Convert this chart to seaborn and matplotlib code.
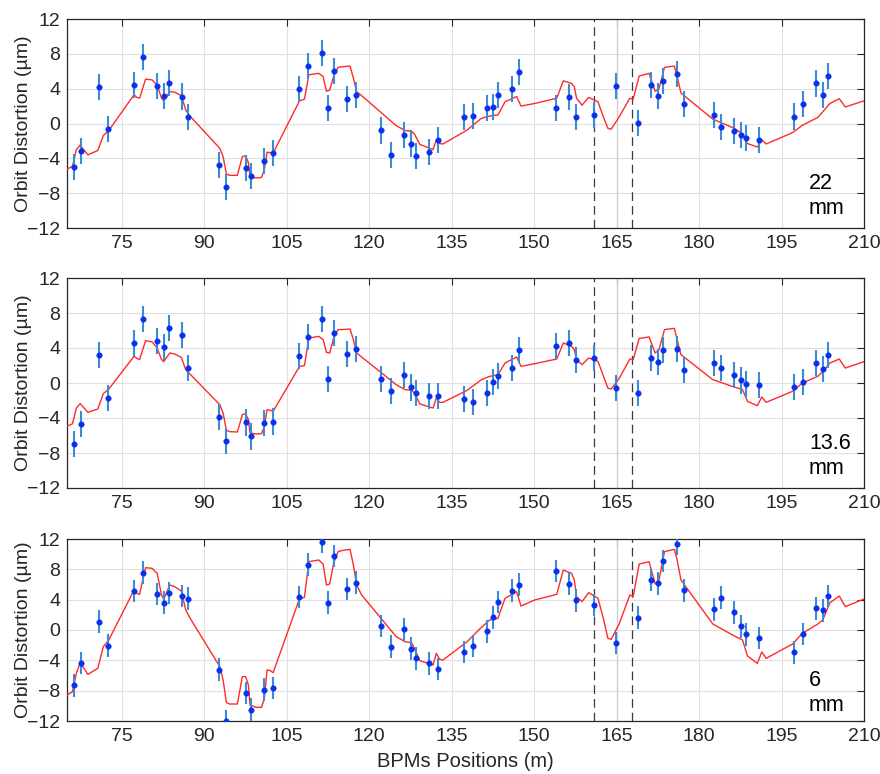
import numpy as np
import pandas as pd
import matplotlib
matplotlib.use("Agg")
import matplotlib.pyplot as plt
import seaborn as sns

# ---------------- data ----------------
BPM_S = [66.3, 67.6, 70.9, 72.5, 77.2, 78.9, 81.4, 82.6, 83.5, 85.9, 87.1,
         92.6, 93.9, 97.6, 98.5, 100.9, 102.5,
         107.2, 108.9, 111.4, 112.5, 113.5,
         115.9, 117.6,
         122.2, 123.9, 126.4, 127.6, 128.5, 130.9, 132.5,
         137.2, 138.9, 141.4, 142.5, 143.5, 145.9, 147.2,
         153.9, 156.4, 157.6, 160.9,
         164.9,
         168.9, 171.3, 172.5, 173.5, 175.9, 177.2,
         182.7, 183.9, 186.4, 187.6, 188.5, 190.9,
         197.3, 198.9, 201.3, 202.6, 203.5]

MEAS_22 = [-5.0, -3.2, 4.2, -0.6, 4.4, 7.6, 4.3, 3.2, 4.65, 3.1, 0.7,
           -4.8, -7.3, -5.1, -6.0, -4.3, -3.35,
           4.0, 6.6, 8.06, 1.8, 6.0,
           2.8, 3.3,
           -0.8, -3.6, -1.3, -2.3, -3.7, -3.3, -1.9,
           0.7, 0.9, 1.8, 1.9, 3.3, 4.0, 5.9,
           1.8, 3.0, 0.7, 1.0,
           4.35,
           0.06, 4.4, 3.2, 4.85, 5.7, 2.2,
           1.0, -0.4, -0.9, -1.3, -1.7, -1.9,
           0.8, 2.2, 4.6, 3.3, 5.5]

MEAS_136 = [-6.97, -4.7, 3.16, -1.7, 4.6, 7.3, 4.76, 4.1, 6.25, 5.5, 1.7,
            -3.9, -6.6, -4.5, -6.1, -4.6, -4.4,
            3.1, 5.26, 7.3, 0.5, 5.7,
            3.3, 3.85,
            0.46, -0.95, 0.9, -0.5, -1.1, -1.45, -1.45,
            -1.87, -2.13, -1.1, 0.08, 0.84, 1.75, 3.77,
            4.27, 4.57, 2.59, 2.9,
            -0.6,
            -1.14, 2.82, 2.36, 3.73, 3.89, 1.45,
            2.32, 1.68, 0.91, 0.3, -0.11, -0.23,
            -0.46, 0.08, 2.25, 1.6, 3.2]

MEAS_6 = [-7.3, -4.35, 1.1, -2.07, 5.14, 7.56, 4.75, 3.6, 4.88, 4.48, 4.13,
          -5.23, -12.0, -8.3, -10.5, -7.87, -7.65,
          4.35, 8.62, 11.6, 3.6, 9.76,
          5.41, 6.24,
          0.53, -2.2, 0.09, -2.46, -3.74, -4.4, -5.14,
          -2.9, -2.11, -0.18, 1.67, 3.69, 5.19, 5.98,
          7.78, 6.11, 3.91, 3.3,
          -1.71,
          1.63, 6.59, 6.15, 9.1, 11.34, 5.23,
          2.73, 4.26, 2.33, 0.48, -0.57, -1.05,
          -2.95, -0.53, 2.86, 2.59, 4.48]

MEAS_ERR = [1.5] * len(BPM_S)

MODEL_S = [65.0, 66.0, 66.7, 67.4, 68.8, 70.6, 71.6, 72.6, 77.2, 77.7, 78.2,
           79.3, 80.5, 81.4, 82.2, 82.6, 83.7, 84.6, 85.8, 86.6, 87.3,
           92.8, 93.4, 94.0, 94.6, 96.0, 96.9, 97.5, 98.0, 98.3, 99.4,
           100.4, 100.9, 101.4, 102.0, 102.5, 107.3, 108.2, 109.0, 110.8,
           111.6, 112.2, 112.8, 113.5, 114.3, 114.9, 116.5, 117.1, 117.7,
           118.6, 124.9, 126.5, 127.7, 128.2, 129.2, 131.6, 132.2, 132.8,
           133.4, 137.8, 140.4, 141.9, 143.4, 144.7, 146.8, 147.6, 150.1,
           154.1, 155.3, 156.8, 157.3, 157.7, 158.7, 159.9, 161.6, 162.5,
           163.4, 164.0, 165.5, 167.4, 168.0, 169.1, 170.9, 172.0, 172.7,
           173.7, 175.5, 176.0, 176.7, 182.5, 186.4, 187.9, 188.8, 190.6,
           191.4, 192.2, 197.0, 198.8, 201.6, 202.5, 203.8, 205.5, 206.6,
           210.0]

MODEL_22 = [-5.26, -4.9, -3.0, -2.5, -3.6, -3.1, -1.4, -0.8, 3.3, 3.0, 2.9,
            5.1, 5.0, 4.4, 2.9, 2.6, 3.65, 3.6, 3.2, 1.55, 0.9,
            -2.85, -3.8, -5.8, -5.95, -5.95, -3.8, -3.7, -4.5, -6.1, -6.25,
            -6.2, -5.3, -3.3, -3.35, -3.4, 2.6, 2.8, 5.6, 5.76,
            5.4, 3.7, 3.85, 5.4, 6.45, 6.5, 6.6, 5.2, 3.65,
            3.2, -0.25, -0.8, -0.9, -1.2, -2.4, -3.0, -1.9, -2.3,
            -2.35, -0.75, 0.6, 0.86, 0.98, 2.5, 3.1, 2.0, 2.3,
            2.9, 4.9, 4.6, 4.2, 2.9, 2.1, 3.0, 2.5, 0.9,
            -0.55, -0.65, 0.8, 2.9, 2.8, 5.45, 5.76, 3.7, 4.0,
            6.45, 6.6, 5.4, 3.5, 0.5, -0.55, -1.2, -2.3, -2.7,
            -1.9, -2.35, -1.05, -0.2, 0.7, 1.35, 2.3, 2.85, 1.9,
            2.6]

MODEL_136 = [-4.95, -4.65, -2.86, -2.36, -3.35, -2.97, -1.22, -0.69, 3.05, 2.82, 2.67,
             4.84, 4.69, 4.0, 2.67, 2.44, 3.43, 3.31, 2.93, 1.52, 1.07,
             -2.48, -3.43, -5.41, -5.56, -5.6, -3.62, -3.5, -4.19, -5.71, -5.83,
             -5.79, -4.95, -3.05, -3.12, -3.24, 1.9, 1.98, 5.14, 5.33,
             4.95, 3.5, 3.43, 5.14, 6.1, 6.1, 6.17, 4.95, 3.43,
             2.97, -0.19, -0.76, -0.84, -1.14, -2.4, -2.86, -1.71, -2.21,
             -2.21, -0.84, 0.38, 0.76, 0.95, 2.29, 2.97, 1.9, 2.21,
             2.74, 4.57, 4.19, 3.81, 2.67, 2.1, 2.86, 2.48, 0.95,
             -0.57, -0.69, 0.57, 2.74, 2.67, 5.1, 5.26, 3.43, 3.81,
             6.1, 6.25, 4.95, 3.24, 0.38, -0.46, -0.76, -2.1, -2.59,
             -1.6, -2.21, -0.95, 0.0, 0.76, 1.33, 2.29, 2.74, 1.71,
             2.44]

MODEL_6 = [-8.57, -8.13, -5.71, -4.31, -5.85, -5.05, -2.2, -1.32, 5.27, 4.84, 4.7,
           8.22, 8.13, 7.47, 4.62, 4.04, 5.93, 5.71, 5.14, 2.64, 1.67,
           -4.84, -6.59, -9.58, -9.76, -9.76, -6.15, -6.15, -7.25, -9.89, -10.2,
           -10.2, -9.01, -5.27, -5.36, -5.63, 4.13, 4.31, 9.01, 9.23,
           8.7, 5.93, 6.07, 8.79, 10.33, 10.46, 10.64, 8.57, 5.93,
           4.62, -0.88, -1.54, -1.67, -2.42, -4.04, -4.62, -3.08, -3.87,
           -3.96, -1.54, 0.35, 1.32, 1.54, 4.18, 5.05, 3.16, 3.96,
           4.7, 7.91, 7.47, 6.59, 4.4, 3.74, 4.92, 4.18, 1.76,
           -1.1, -1.23, 0.88, 4.62, 4.4, 8.7, 9.01, 6.07, 6.59,
           10.33, 10.64, 9.23, 6.59, 0.79, -0.79, -1.32, -3.43, -4.4,
           -2.9, -3.74, -1.85, -0.44, 0.79, 1.32, 3.6, 4.48, 3.08,
           4.09]

GAP_LABELS = ["22\nmm", "13.6\nmm", "6\nmm"]
X_TICKS = [75, 90, 105, 120, 135, 150, 165, 180, 195, 210]
Y_TICKS = [-12, -8, -4, 0, 4, 8, 12]
DASHED_S = [160.8, 167.8]

# ---------------- style ----------------
sns.set_theme(style="whitegrid")
plt.rcParams["font.family"] = ["Liberation Sans", "DejaVu Sans"]
TXT = "#262626"

fig = plt.figure(figsize=(8.8, 7.74), dpi=100)
W, H = 880.0, 774.0
L, R = 67.0, 864.0
boxes = [(19, 228), (278, 488), (539, 721)]

panels = [(MEAS_22, MODEL_22), (MEAS_136, MODEL_136), (MEAS_6, MODEL_6)]

for i, ((top, bot), (meas, model), lab) in enumerate(zip(boxes, panels, GAP_LABELS)):
    ax = fig.add_axes([L / W, 1 - bot / H, (R - L) / W, (bot - top) / H])
    ax.set_facecolor("white")
    ax.grid(True, color="#e0e0e0", lw=0.8)
    ax.axvline(165, color="#cfcfcf", lw=0.9, zorder=1)
    for xs in DASHED_S:
        ax.axvline(xs, color="#3a3a3a", lw=0.9, ls=(0, (7, 4)), zorder=2)

    dfm = pd.DataFrame({"s": MODEL_S, "y": model})
    sns.lineplot(data=dfm, x="s", y="y", ax=ax, color="#ff2a2a", lw=1.0,
                 sort=False, estimator=None, zorder=3)

    dfp = pd.DataFrame({"s": BPM_S, "y": meas, "e": MEAS_ERR})
    ax.errorbar(dfp["s"], dfp["y"], yerr=dfp["e"], fmt="none",
                ecolor="#3a8cd8", elinewidth=1.5, capsize=0, zorder=4)
    sns.scatterplot(data=dfp, x="s", y="y", ax=ax, color="#0a30ee", s=16,
                    edgecolor="#0a30ee", linewidth=0.3, zorder=5)

    ax.set_xlim(65, 210)
    ax.set_ylim(-12, 12)
    ax.set_xticks(X_TICKS)
    ax.set_yticks(Y_TICKS)
    ax.tick_params(axis="both", which="both", direction="in", length=5,
                   width=0.8, color=TXT, labelsize=14, labelcolor=TXT,
                   top=True, right=True, pad=5)
    for sp in ax.spines.values():
        sp.set_visible(True)
        sp.set_color(TXT)
        sp.set_linewidth(0.9)

    ax.set_ylabel("Orbit Distortion (µm)", fontsize=14, color=TXT)
    ax.yaxis.set_label_coords(-0.044, 0.5)
    if i == 2:
        ax.set_xlabel("BPMs Positions (m)", fontsize=14.5, color=TXT, labelpad=5)
    else:
        ax.set_xlabel("")

    ax.text(0.931, 0.153, lab, transform=ax.transAxes, ha="left", va="center",
            fontsize=15.5, color="black", linespacing=1.25, zorder=6)

fig.savefig("out.png", dpi=100)
